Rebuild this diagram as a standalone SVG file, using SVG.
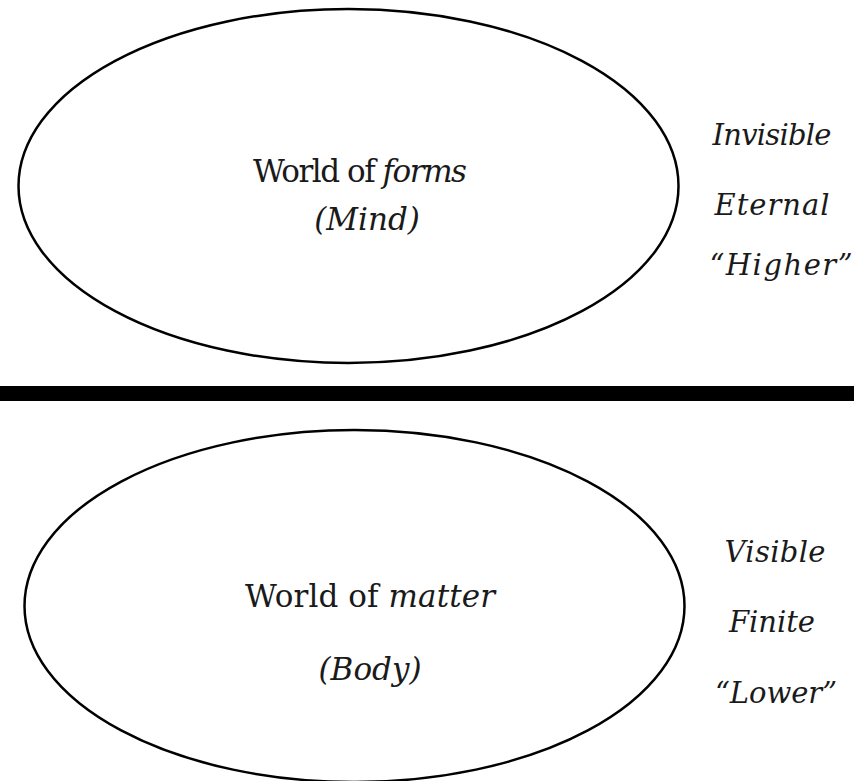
<svg xmlns="http://www.w3.org/2000/svg" width="854" height="781" viewBox="0 0 854 781">
<style>
.shape{fill:none;stroke:#000;stroke-width:2.5}
.t{font-family:"DejaVu Serif",serif;fill:#1a1a1a;text-anchor:middle}
.main{font-size:31px}
.side{font-size:29px;font-style:italic}
.it{font-style:italic}
</style>
<rect width="854" height="781" fill="#fff"/>
<g id="forms">
<ellipse class="shape" cx="348.5" cy="186" rx="330" ry="177"/>
<text class="t main" x="360" y="182" textLength="214">World of <tspan class="it">forms</tspan></text>
<text class="t main it" x="367" y="230">(Mind)</text>
</g>
<g id="forms-traits">
<text class="t side" x="772" y="145" textLength="119">Invisible</text>
<text class="t side" x="772" y="215" textLength="115">Eternal</text>
<text class="t side" x="781" y="275" textLength="143">“Higher”</text>
</g>
<g id="divider">
<rect x="0" y="386" width="854" height="15" fill="#000"/>
</g>
<g id="matter">
<ellipse class="shape" cx="354.5" cy="606" rx="330" ry="176"/>
<text class="t main" x="370" y="607" textLength="250">World of <tspan class="it">matter</tspan></text>
<text class="t main it" x="370" y="680">(Body)</text>
</g>
<g id="matter-traits">
<text class="t side" x="775" y="562" textLength="101">Visible</text>
<text class="t side" x="772" y="632" textLength="86">Finite</text>
<text class="t side" x="776" y="703" textLength="122">“Lower”</text>
</g>
<g id="connectors"/>
</svg>
